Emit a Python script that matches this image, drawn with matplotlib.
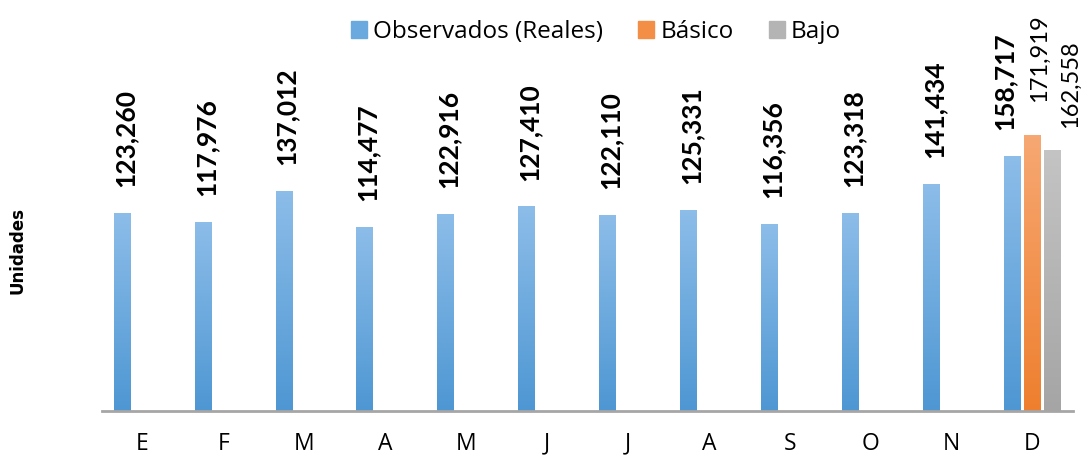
import numpy as np
import matplotlib
matplotlib.use("Agg")
import matplotlib.pyplot as plt
from matplotlib.patches import Patch
from matplotlib.colors import LinearSegmentedColormap

# datos
meses = ['E', 'F', 'M', 'A', 'M', 'J', 'J', 'A', 'S', 'O', 'N', 'D']
observados = [123260, 117976, 137012, 114477, 122916, 127410,
              122110, 125331, 116356, 123318, 141434, 158717]
basico = [171919]   # solo diciembre
bajo = [162558]
etiqueta_obs = 'Observados (Reales)'
etiqueta_bas = 'Básico'
etiqueta_bajo = 'Bajo'

plt.rcParams['font.family'] = ['Lato', 'DejaVu Sans']

fig = plt.figure(figsize=(10.87, 4.57), dpi=100)
ax = fig.add_axes([102 / 1087, 46 / 457, 971 / 1087, 411 / 457])

x = np.arange(len(meses))
ancho = 0.21
desp = 0.25

def barras_degradado(xs, vals, c_arriba, c_abajo):
    barras = ax.bar(xs, vals, width=ancho, color=c_abajo, zorder=2)
    cmap = LinearSegmentedColormap.from_list('g', [c_abajo, c_arriba])
    grad = np.linspace(0, 1, 256).reshape(-1, 1)
    for b in barras:
        x0, y0 = b.get_x(), b.get_y()
        im = ax.imshow(grad, cmap=cmap, origin='lower', aspect='auto',
                       extent=(x0, x0 + b.get_width(), y0, y0 + b.get_height()),
                       zorder=3)
        im.set_clip_path(b)
    return barras

barras_degradado(x - desp, observados, '#8dbde9', '#4e97d3')
barras_degradado(x[-1:], basico, '#f7a873', '#ee7f2e')
barras_degradado(x[-1:] + desp, bajo, '#c4c4c4', '#a5a5a5')

# etiquetas de valores
for i, v in enumerate(observados):
    dx = -6 if i == len(observados) - 1 else 2
    ax.annotate(f'{v:,}', (x[i] - desp, v), xytext=(dx, 18.5), textcoords='offset points',
                rotation=90, ha='center', va='bottom', fontsize=19,
                fontweight='bold', annotation_clip=False)
ax.annotate(f'{basico[0]:,}', (x[-1], basico[0]), xytext=(5, 24),
            textcoords='offset points', rotation=90, ha='center', va='bottom',
            fontsize=17, annotation_clip=False)
ax.annotate(f'{bajo[0]:,}', (x[-1] + desp, bajo[0]), xytext=(13, 16),
            textcoords='offset points', rotation=90, ha='center', va='bottom',
            fontsize=17, annotation_clip=False)

ax.set_xlim(-0.5, len(meses) - 0.5)
ax.set_ylim(0, 255900)
ax.set_xticks(x)
ax.set_xticklabels(meses, fontsize=16.5, family=['Open Sans', 'DejaVu Sans'])
ax.tick_params(axis='x', length=0, pad=15)
ax.set_yticks([])
for s in ['top', 'right', 'left']:
    ax.spines[s].set_visible(False)
ax.spines['bottom'].set_color('#a6a6a6')
ax.spines['bottom'].set_linewidth(2)
ax.spines['bottom'].set_zorder(4)

fig.text(18 / 1087, 1 - 250 / 457, 'Unidades', rotation=90, ha='center', va='center',
         fontsize=12, fontweight='bold', family='DejaVu Sans')

handles = [Patch(color='#6aa9e0'), Patch(color='#f28e45'), Patch(color='#b4b4b4')]
fig.legend(handles, [etiqueta_obs, etiqueta_bas, etiqueta_bajo], loc='center',
           bbox_to_anchor=(596 / 1087, 1 - 32 / 457), ncol=3, frameon=False,
           prop={'family': ['Open Sans', 'DejaVu Sans'], 'size': 17.5},
           handlelength=0.66, handleheight=0.66, handletextpad=0.25,
           columnspacing=1.45)

fig.savefig('out.png', dpi=100)
